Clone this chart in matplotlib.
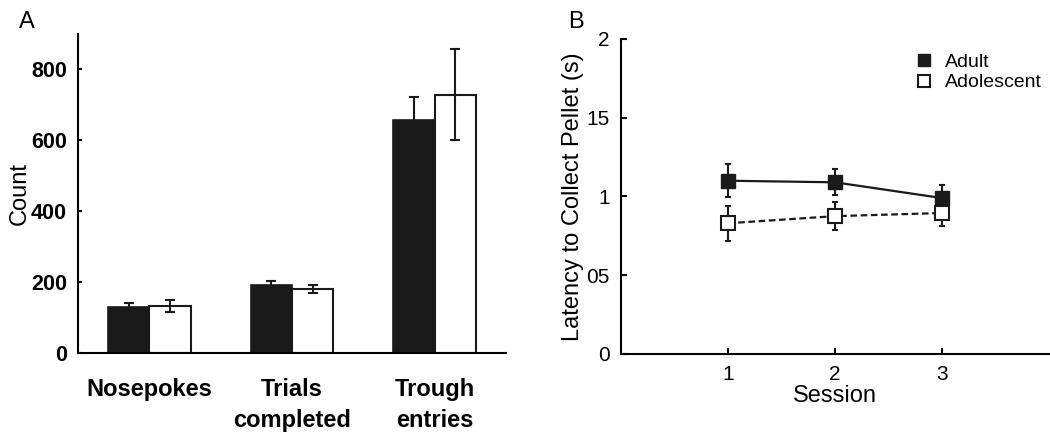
import matplotlib
matplotlib.use("Agg")
import matplotlib.pyplot as plt
import numpy as np
from matplotlib.lines import Line2D

plt.rcParams['font.family'] = ['Liberation Sans', 'DejaVu Sans']

# Panel A data
categories = ["Nosepokes", "Trials\ncompleted", "Trough\nentries"]
adult_counts = [130, 192, 658]
adult_err = [12, 11, 63]
adol_counts = [133, 180, 729]
adol_err = [17, 11, 128]
a_yticks = [0, 200, 400, 600, 800]

# Panel B data
sessions = [1, 2, 3]
adult_lat = [1.10, 1.09, 0.99]
adult_lat_err = [0.105, 0.083, 0.08]
adol_lat = [0.83, 0.875, 0.895]
adol_lat_err = [0.11, 0.09, 0.08]
b_yticks = [0, 0.5, 1, 1.5, 2]
b_yticklabels = ["0", "05", "1", "15", "2"]

fig = plt.figure(figsize=(10.5, 4.37), dpi=100)
axA = fig.add_axes([0.0743, 0.1922, 0.4076, 0.730])
axB = fig.add_axes([0.5914, 0.1900, 0.4076, 0.7208])

lw = 1.5
x = np.arange(len(categories))
w = 0.29
axA.bar(x - w/2, adult_counts, w, color='#1a1a1a', edgecolor='#1a1a1a', linewidth=1.2)
axA.bar(x + w/2, adol_counts, w, color='white', edgecolor='#1a1a1a', linewidth=1.5)
axA.errorbar(x - w/2, adult_counts, yerr=adult_err, fmt='none', ecolor='#1a1a1a',
             elinewidth=1.5, capsize=3.5, capthick=1.5)
axA.errorbar(x + w/2, adol_counts, yerr=adol_err, fmt='none', ecolor='#1a1a1a',
             elinewidth=1.5, capsize=3.5, capthick=1.5)
axA.set_xlim(-0.5, 2.5)
axA.set_ylim(0, 900)
axA.set_yticks(a_yticks)
axA.set_yticklabels([str(v) for v in a_yticks], fontweight='bold', fontsize=15.5)
axA.set_xticks(x)
axA.set_xticklabels(categories, fontweight='bold', fontsize=17, linespacing=1.45)
axA.tick_params(axis='x', length=0, pad=18)
axA.tick_params(axis='y', direction='in', length=3, width=lw, pad=8)
for s in ['top', 'right']:
    axA.spines[s].set_visible(False)
for s in ['left', 'bottom']:
    axA.spines[s].set_linewidth(lw)
axA.set_ylabel("Count", fontsize=17, labelpad=0)
fig.text(0.018, 0.935, "A", fontsize=17)

# Panel B
axB.errorbar(sessions, adult_lat, yerr=adult_lat_err, color='#1a1a1a', linestyle='-',
             linewidth=1.6, marker='s', markersize=9.5, markerfacecolor='#1a1a1a',
             markeredgecolor='#1a1a1a', elinewidth=1.5, capsize=2, capthick=1.5, label='Adult')
axB.errorbar(sessions, adol_lat, yerr=adol_lat_err, color='#1a1a1a', linestyle=(0, (3, 1.6)),
             linewidth=1.6, marker='s', markersize=9.5, markerfacecolor='white',
             markeredgecolor='#1a1a1a', markeredgewidth=1.5, elinewidth=1.5, capsize=2,
             capthick=1.5, label='Adolescent')
axB.set_xlim(0, 4)
axB.set_ylim(0, 2)
axB.set_xticks(sessions)
axB.set_xticklabels([str(s) for s in sessions], fontsize=15)
axB.set_yticks(b_yticks)
axB.set_yticklabels(b_yticklabels, fontsize=15)
axB.tick_params(direction='in', length=4, width=lw)
axB.tick_params(axis='y', pad=8)
axB.tick_params(axis='x', pad=8)
for s in ['top', 'right']:
    axB.spines[s].set_visible(False)
for s in ['left', 'bottom']:
    axB.spines[s].set_linewidth(lw)
axB.set_xlabel("Session", fontsize=17, labelpad=1)
axB.set_ylabel("Latency to Collect Pellet (s)", fontsize=17, labelpad=2)

h1 = Line2D([], [], linestyle='none', marker='s', markersize=8, markerfacecolor='#1a1a1a',
            markeredgecolor='#1a1a1a')
h2 = Line2D([], [], linestyle='none', marker='s', markersize=8, markerfacecolor='white',
            markeredgecolor='#1a1a1a', markeredgewidth=1.5)
axB.legend([h1, h2], ['Adult', 'Adolescent'], loc='upper left', bbox_to_anchor=(0.64, 1.01),
           frameon=False, fontsize=14, handletextpad=0.5, labelspacing=0.15, handlelength=1.2)
fig.text(0.541, 0.935, "B", fontsize=17)

fig.savefig("out.png", dpi=100)
